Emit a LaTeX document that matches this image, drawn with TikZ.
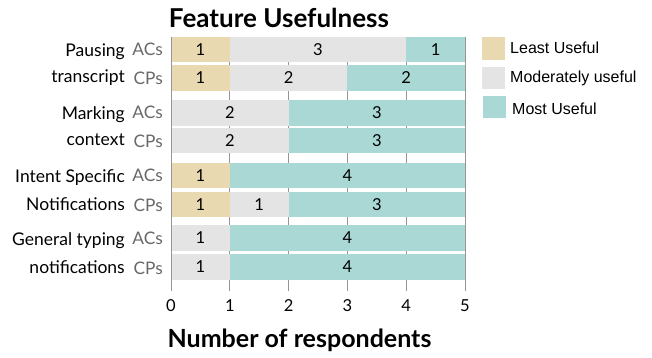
\documentclass[tikz,border=0pt]{standalone}
\usepackage{fontspec}
\setmainfont{Lato}
\newfontfamily\legendfont{Liberation Sans}
\usetikzlibrary{calc}

\definecolor{leastcol}{RGB}{233,217,176}
\definecolor{modcol}{RGB}{228,228,228}
\definecolor{mostcol}{RGB}{170,217,213}
\definecolor{gridcol}{RGB}{150,150,150}
\definecolor{groupcol}{RGB}{105,105,105}

\tikzset{
	least/.style={fill=leastcol},
	moderate/.style={fill=modcol},
	most/.style={fill=mostcol},
	count/.style={inner sep=0pt, font=\fontsize{16.5}{16.5}\selectfont},
	feature/.style={inner sep=0pt, anchor=base east, font=\fontsize{17.5}{17.5}\selectfont},
	group/.style={inner sep=0pt, anchor=base east, text=groupcol, font=\fontsize{17.3}{17.3}\selectfont},
	legendlabel/.style={inner sep=0pt, anchor=west, font=\legendfont\fontsize{16}{16}\selectfont}
}

\begin{document}
\begin{tikzpicture}[x=1pt, y=-1pt]
				\useasboundingbox (0,0) rectangle (652,358);
				
				\node[font=\bfseries\fontsize{26}{26}\selectfont] (title) at (279,18) {Feature Usefulness};
				
				\begin{scope}[shift={(171pt,0pt)}, x=58.8pt, y=-1pt]
					% grid lines and ticks
					\draw[gridcol, line width=0.8pt] (1,37) -- (1,291);
					\draw[gridcol, line width=0.8pt] (2,37) -- (2,291);
					\draw[gridcol, line width=0.8pt] (3,37) -- (3,291);
					\draw[gridcol, line width=0.8pt] (4,37) -- (4,291);
					\draw[gridcol, line width=0.8pt] (5,37) -- (5,291);
					
					% Pausing transcript
					\fill[least] (0,37) rectangle (1,62);
					\fill[moderate] (1,37) rectangle (4,62);
					\fill[most] (4,37) rectangle (5,62);
					\node[count] (pa1) at (0.5,49.5) {1};
					\node[count] (pa2) at (2.5,49.5) {3};
					\node[count] (pa3) at (4.5,49.5) {1};
					\fill[least] (0,65) rectangle (1,91);
					\fill[moderate] (1,65) rectangle (3,91);
					\fill[most] (3,65) rectangle (5,91);
					\node[count] (pc1) at (0.5,78) {1};
					\node[count] (pc2) at (2,78) {2};
					\node[count] (pc3) at (4,78) {2};
					
					% Marking context
					\fill[moderate] (0,100) rectangle (2,126);
					\fill[most] (2,100) rectangle (5,126);
					\node[count] (ma2) at (1,113) {2};
					\node[count] (ma3) at (3.5,113) {3};
					\fill[moderate] (0,128) rectangle (2,153);
					\fill[most] (2,128) rectangle (5,153);
					\node[count] (mc2) at (1,140.5) {2};
					\node[count] (mc3) at (3.5,140.5) {3};
					
					% Intent specific notifications
					\fill[least] (0,163) rectangle (1,188);
					\fill[most] (1,163) rectangle (5,188);
					\node[count] (ia1) at (0.5,175.5) {1};
					\node[count] (ia3) at (3,175.5) {4};
					\fill[least] (0,192) rectangle (1,217);
					\fill[moderate] (1,192) rectangle (2,217);
					\fill[most] (2,192) rectangle (5,217);
					\node[count] (ic1) at (0.5,204.5) {1};
					\node[count] (ic2) at (1.5,204.5) {1};
					\node[count] (ic3) at (3.5,204.5) {3};
					
					% General typing notifications
					\fill[moderate] (0,225) rectangle (1,251);
					\fill[most] (1,225) rectangle (5,251);
					\node[count] (ga2) at (0.5,238) {1};
					\node[count] (ga3) at (3,238) {4};
					\fill[moderate] (0,254) rectangle (1,280);
					\fill[most] (1,254) rectangle (5,280);
					\node[count] (gc2) at (0.5,267) {1};
					\node[count] (gc3) at (3,267) {4};
					
					\draw[gridcol, line width=1pt] (0,37) -- (0,291);
					
					\node[count] (t0) at (0,305.5) {0};
					\node[count] (t1) at (1,305.5) {1};
					\node[count] (t2) at (2,305.5) {2};
					\node[count] (t3) at (3,305.5) {3};
					\node[count] (t4) at (4,305.5) {4};
					\node[count] (t5) at (5,305.5) {5};
				\end{scope}
				
				\node[font=\bfseries\fontsize{25}{25}\selectfont] (xlabel) at (299.5,340) {Number of respondents};
				
				% row labels
				\node[feature] (pausing) at (125,57) {Pausing};
				\node[feature] (transcript) at (125,83) {transcript};
				\node[feature] (marking) at (125,120) {Marking};
				\node[feature] (context) at (125,146) {context};
				\node[feature] (intent) at (125,182) {Intent Specific};
				\node[feature] (notif) at (125,210) {Notifications};
				\node[feature] (general) at (125,245) {General typing};
				\node[feature] (typing) at (125,273) {notifications};
				
				\node[group] (pac) at (163,56) {ACs};
				\node[group] (pcp) at (163,85) {CPs};
				\node[group] (mac) at (163,119) {ACs};
				\node[group] (mcp) at (163,147) {CPs};
				\node[group] (iac) at (163,181) {ACs};
				\node[group] (icp) at (163,211) {CPs};
				\node[group] (gac) at (163,244) {ACs};
				\node[group] (gcp) at (163,274) {CPs};
				
				% legend
				\fill[least] (482,37) rectangle (505,60);
				\fill[moderate] (482,67) rectangle (505,89);
				\fill[most] (483,96) rectangle (506,118);
				\node[legendlabel] (leg1) at (510,47.5) {Least Useful};
				\node[legendlabel] (leg2) at (510,78) {Moderately useful};
				\node[legendlabel] (leg3) at (512,108.5) {Most Useful};
\end{tikzpicture}
\end{document}
